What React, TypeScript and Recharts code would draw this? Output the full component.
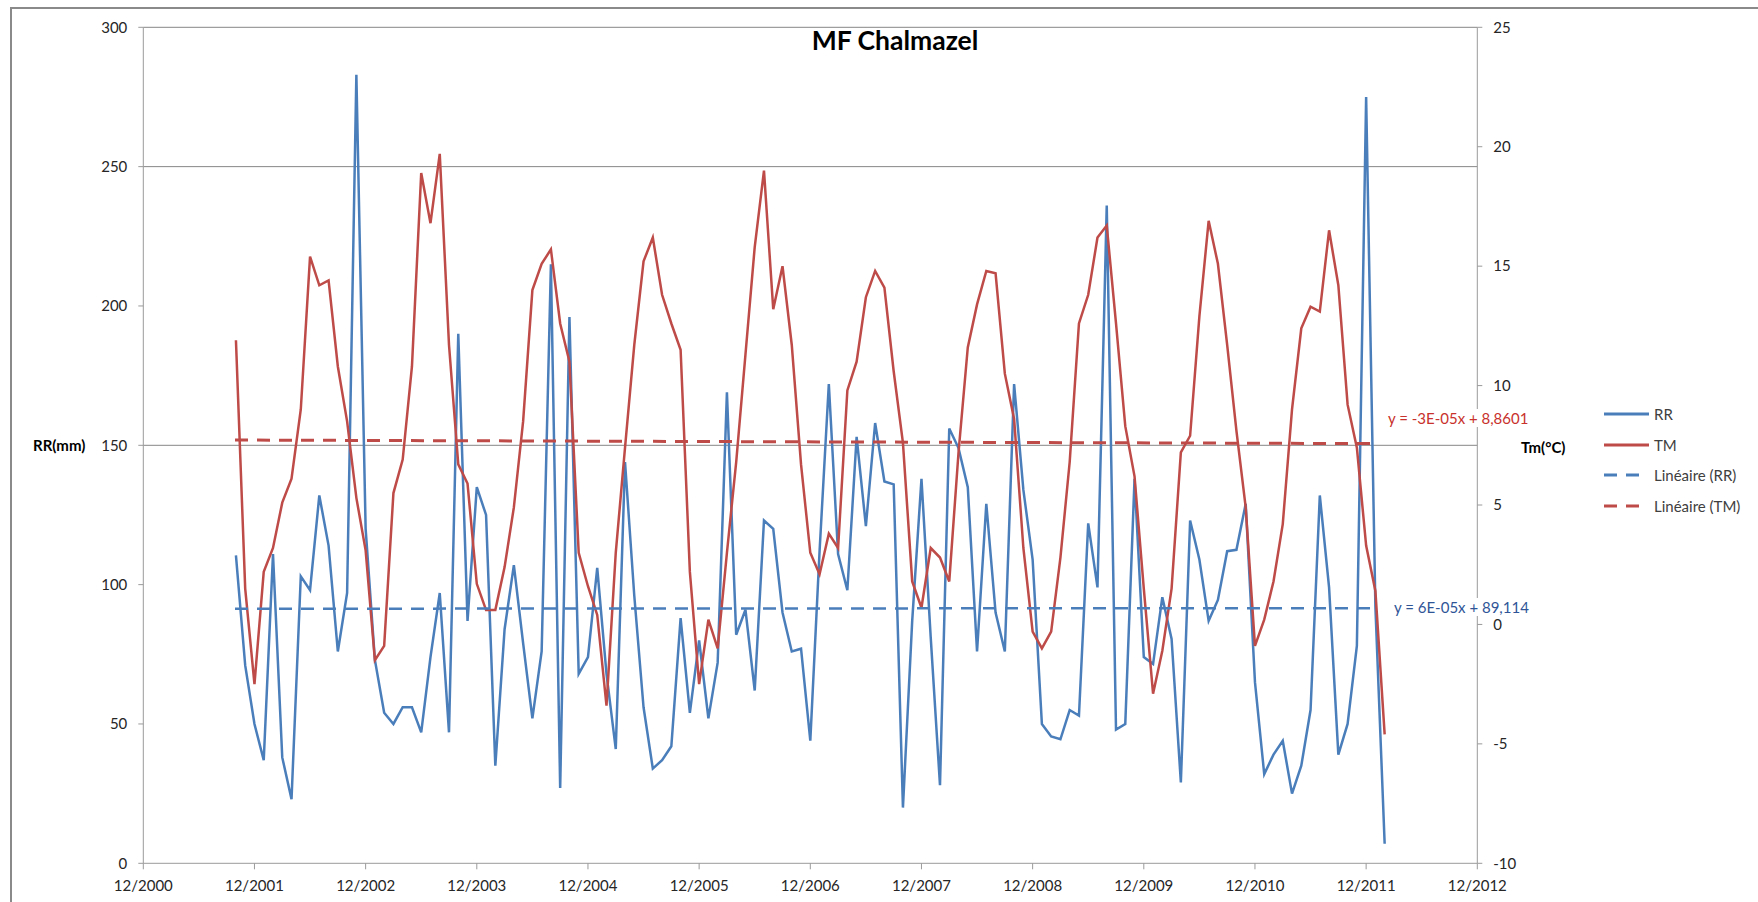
import { ComposedChart, Line, XAxis, YAxis, ReferenceLine, Legend } from 'recharts'

// monthly series, first value = 10/2001 (10 months after 12/2000)
const FIRST_MONTH = 10

const rr = [
  110.5, 71, 50, 37, 111, 38, 23, 103, 98, 132, 114, 76, 97, 283, 120, 73, 54, 50, 56, 56,
  47, 74, 97, 47, 190, 87, 135, 125, 35, 84, 107, 79, 52, 76, 215, 27, 196, 68, 74, 106,
  68, 41, 144, 96, 56, 34, 37, 42, 88, 54, 80, 52, 72, 169, 82, 91, 62, 123, 120, 90,
  76, 77, 44, 112, 172, 111, 98, 153, 121, 158, 137, 136, 20, 87, 138, 81, 28, 156, 149, 135,
  76, 129, 90, 76, 172, 134, 109, 50, 45.5, 44.5, 55, 53, 122, 99, 236, 48, 50, 138, 74, 71.5,
  95.5, 80.5, 29, 123, 109, 87, 94.5, 112, 112.5, 129, 65, 32, 39, 44, 25, 35, 55, 132, 99, 39,
  50, 78, 275, 92, 7,
]

const tm = [
  11.9, 1.5, -2.5, 2.2, 3.2, 5.1, 6.1, 9.0, 15.4, 14.2, 14.4, 10.8, 8.5, 5.3, 3.1, -1.5, -0.9, 5.5, 6.9, 10.8,
  18.9, 16.8, 19.7, 11.7, 6.7, 5.9, 1.7, 0.6, 0.6, 2.4, 4.9, 8.5, 14.0, 15.1, 15.7, 12.6, 11.0, 3.0, 1.6, 0.4,
  -3.4, 3.0, 7.4, 11.7, 15.2, 16.2, 13.8, 12.6, 11.5, 2.2, -2.5, 0.2, -1.0, 3.0, 6.8, 11.3, 15.8, 19.0, 13.2, 15.0,
  11.7, 6.7, 3.0, 2.1, 3.8, 3.2, 9.8, 11.0, 13.7, 14.8, 14.1, 10.6, 7.6, 1.8, 0.7, 3.2, 2.8, 1.8, 7.2, 11.6,
  13.4, 14.8, 14.7, 10.5, 8.6, 3.2, -0.3, -1.0, -0.3, 2.8, 6.8, 12.6, 13.8, 16.2, 16.7, 12.6, 8.3, 6.2, 1.5, -2.9,
  -1.1, 1.5, 7.2, 7.9, 12.9, 16.9, 15.1, 11.7, 8.1, 4.9, -0.9, 0.2, 1.8, 4.2, 9.0, 12.4, 13.3, 13.1, 16.5, 14.2,
  9.2, 7.4, 3.3, 1.4, -4.6,
]

// linear trend lines (start, end)
const trendMonths = [9.9, 133.3]
const rrTrend = [91.35, 91.57]
const tmTrend = [7.72, 7.57]

const xTicks = [0, 12, 24, 36, 48, 60, 72, 84, 96, 108, 120, 132, 144]
const xTickLabels = [
  '12/2000', '12/2001', '12/2002', '12/2003', '12/2004', '12/2005', '12/2006',
  '12/2007', '12/2008', '12/2009', '12/2010', '12/2011', '12/2012',
]
const rrTicks = [0, 50, 100, 150, 200, 250, 300]
const tmTicks = [-10, -5, 0, 5, 10, 15, 20, 25]
const rrGridLines = [150, 250, 300]

const BLUE = '#4A7EBB'
const RED = '#BE4B48'
const AXIS = '#9A9A9A'
const GRID = '#868686'
const FONT = 'Lato, "Liberation Sans", sans-serif'

const rows = rr.map((v, i) => ({ m: FIRST_MONTH + i, rr: v, tm: tm[i] }))
const rrTrendRows = trendMonths.map((m, i) => ({ m, v: rrTrend[i] }))
const tmTrendRows = trendMonths.map((m, i) => ({ m, v: tmTrend[i] }))

const legendItems = [
  { name: 'RR', color: BLUE, dashed: false },
  { name: 'TM', color: RED, dashed: false },
  { name: 'Linéaire (RR)', color: BLUE, dashed: true },
  { name: 'Linéaire (TM)', color: RED, dashed: true },
]

function LegendBox() {
  return (
    <div style={{ fontFamily: FONT, fontSize: 15, color: '#404040' }}>
      {legendItems.map((it) => (
        <div key={it.name} style={{ display: 'flex', alignItems: 'center', height: 30.5 }}>
          <svg width={50} height={6} style={{ display: 'block' }}>
            <line
              x1={0}
              x2={it.dashed ? 36 : 45}
              y1={3}
              y2={3}
              stroke={it.color}
              strokeWidth={3}
              strokeDasharray={it.dashed ? '13 9' : undefined}
            />
          </svg>
          <span>{it.name}</span>
        </div>
      ))}
    </div>
  )
}

const tickStyle = { fill: '#262626', fontSize: 15, fontFamily: FONT }

export default function App() {
  return (
    <div
      style={{
        position: 'absolute',
        left: 0,
        top: 0,
        width: 1758,
        height: 902,
        overflow: 'hidden',
        background: '#fff',
        fontFamily: FONT,
      }}
    >
      <div
        style={{
          position: 'absolute',
          left: 10,
          top: 7,
          width: 1800,
          height: 1000,
          border: '2px solid #8A8A8A',
        }}
      />
      <ComposedChart
        width={1758}
        height={902}
        data={rows}
        margin={{ top: 27.3, right: 200.7, left: 0, bottom: 8.7 }}
      >
        <XAxis
          type="number"
          dataKey="m"
          domain={[0, 144]}
          ticks={xTicks}
          interval={0}
          tickFormatter={(v: number) => xTickLabels[xTicks.indexOf(v)]}
          stroke={AXIS}
          tickSize={6}
          tickMargin={11}
          tick={tickStyle}
          height={30}
        />
        <YAxis
          yAxisId="left"
          domain={[0, 300]}
          ticks={rrTicks}
          interval={0}
          stroke={AXIS}
          tickSize={5}
          tickMargin={11}
          tick={tickStyle}
          width={143.3}
        />
        <YAxis
          yAxisId="right"
          orientation="right"
          domain={[-10, 25]}
          ticks={tmTicks}
          interval={0}
          stroke={AXIS}
          tickSize={5}
          tickMargin={11}
          tick={tickStyle}
          width={80}
        />
        {rrGridLines.map((y) => (
          <ReferenceLine key={y} yAxisId="left" y={y} stroke={GRID} strokeWidth={1} />
        ))}
        <Line
          yAxisId="left"
          dataKey="rr"
          name="RR"
          stroke={BLUE}
          strokeWidth={2.5}
          dot={false}
          activeDot={false}
          isAnimationActive={false}
        />
        <Line
          yAxisId="right"
          dataKey="tm"
          name="TM"
          stroke={RED}
          strokeWidth={2.5}
          dot={false}
          activeDot={false}
          isAnimationActive={false}
        />
        <Line
          yAxisId="left"
          data={rrTrendRows}
          dataKey="v"
          name="Linéaire (RR)"
          stroke={BLUE}
          strokeWidth={2.5}
          strokeDasharray="13 9"
          dot={false}
          activeDot={false}
          isAnimationActive={false}
        />
        <Line
          yAxisId="right"
          data={tmTrendRows}
          dataKey="v"
          name="Linéaire (TM)"
          stroke={RED}
          strokeWidth={3}
          strokeDasharray="13 9"
          dot={false}
          activeDot={false}
          isAnimationActive={false}
        />
        <Legend
          layout="vertical"
          align="center"
          verticalAlign="middle"
          content={() => <LegendBox />}
          wrapperStyle={{ left: 1604, top: 399, width: 150, height: 124 }}
        />
      </ComposedChart>

      <div
        style={{
          position: 'absolute',
          left: 0,
          width: 1790,
          top: 24,
          textAlign: 'center',
          fontSize: 26.5,
          fontWeight: 700,
          color: '#000',
        }}
      >
        MF Chalmazel
      </div>
      <div style={{ position: 'absolute', left: 33, top: 436, fontSize: 15, fontWeight: 700, color: '#000' }}>
        RR(mm)
      </div>
      <div style={{ position: 'absolute', left: 1521, top: 438, fontSize: 15, fontWeight: 700, color: '#000' }}>
        Tm(°C)
      </div>
      <div
        style={{
          position: 'absolute',
          left: 1386,
          top: 409,
          fontSize: 15,
          color: '#C8312C',
          background: '#fff',
          padding: '0 2px',
        }}
      >
        y = -3E-05x + 8,8601
      </div>
      <div
        style={{
          position: 'absolute',
          left: 1392,
          top: 598,
          fontSize: 15,
          color: '#2F5597',
          background: '#fff',
          padding: '0 2px',
        }}
      >
        y = 6E-05x + 89,114
      </div>
    </div>
  )
}
